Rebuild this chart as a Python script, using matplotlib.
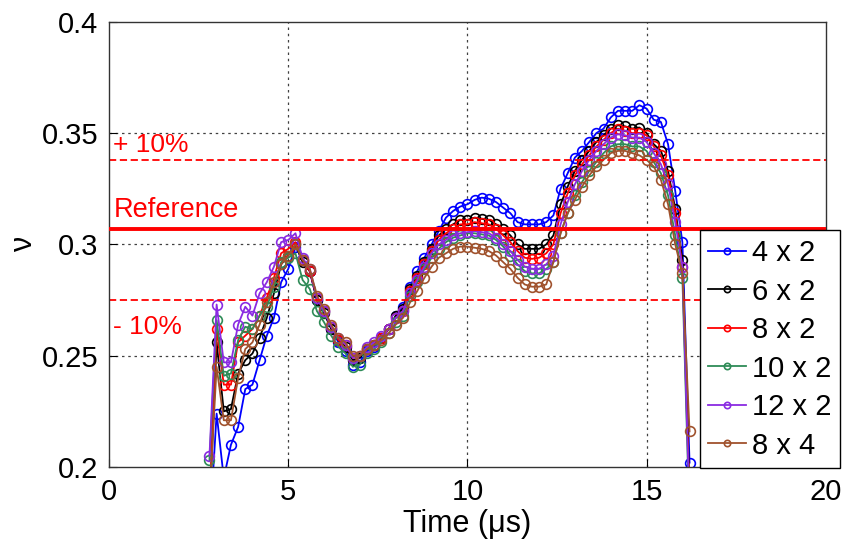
import matplotlib
matplotlib.use("Agg")
import matplotlib.pyplot as plt
import numpy as np

plt.rcParams['font.family'] = ['Liberation Sans', 'DejaVu Sans']

# sample times (us)
t = np.round(np.arange(2.8, 16.21, 0.2), 1)

nu_4x2 = [0.170, 0.224, 0.195, 0.210, 0.218, 0.235, 0.237, 0.248, 0.259, 0.267,
          0.283, 0.289, 0.299, 0.293, 0.288, 0.275, 0.270, 0.262, 0.256, 0.252,
          0.246, 0.247, 0.252, 0.254, 0.258, 0.262, 0.268, 0.272, 0.281, 0.288,
          0.294, 0.300, 0.306, 0.312, 0.315, 0.317, 0.318, 0.320, 0.321, 0.3205,
          0.319, 0.3165, 0.314, 0.310, 0.309, 0.309, 0.309, 0.310, 0.313, 0.325,
          0.332, 0.339, 0.342, 0.346, 0.350, 0.352, 0.357, 0.360, 0.360, 0.360,
          0.3625, 0.361, 0.356, 0.355, 0.345, 0.324, 0.301, 0.202]
nu_6x2 = [0.180, 0.256, 0.225, 0.226, 0.242, 0.248, 0.251, 0.258, 0.267, 0.278,
          0.291, 0.295, 0.300, 0.292, 0.288, 0.275, 0.269, 0.262, 0.257, 0.254,
          0.248, 0.249, 0.253, 0.255, 0.258, 0.262, 0.268, 0.271, 0.280, 0.286,
          0.292, 0.298, 0.304, 0.307, 0.309, 0.311, 0.311, 0.312, 0.3115, 0.311,
          0.309, 0.307, 0.304, 0.300, 0.298, 0.298, 0.298, 0.300, 0.304, 0.318,
          0.326, 0.333, 0.338, 0.342, 0.346, 0.349, 0.352, 0.3535, 0.353, 0.352,
          0.3525, 0.350, 0.345, 0.342, 0.333, 0.316, 0.293, 0.190]
nu_8x2 = [0.185, 0.262, 0.237, 0.237, 0.256, 0.259, 0.262, 0.268, 0.276, 0.285,
          0.296, 0.298, 0.301, 0.293, 0.288, 0.276, 0.270, 0.263, 0.257, 0.255,
          0.249, 0.250, 0.253, 0.255, 0.258, 0.262, 0.267, 0.270, 0.279, 0.285,
          0.291, 0.297, 0.302, 0.305, 0.307, 0.309, 0.309, 0.310, 0.3095, 0.309,
          0.307, 0.304, 0.301, 0.297, 0.294, 0.2935, 0.294, 0.296, 0.300, 0.314,
          0.323, 0.331, 0.336, 0.340, 0.344, 0.347, 0.350, 0.352, 0.351, 0.350,
          0.350, 0.349, 0.344, 0.340, 0.331, 0.314, 0.290, 0.185]
nu_10x2 = [0.203, 0.266, 0.241, 0.242, 0.257, 0.263, 0.262, 0.268, 0.272, 0.281,
           0.292, 0.294, 0.296, 0.284, 0.280, 0.270, 0.265, 0.259, 0.254, 0.251,
           0.245, 0.246, 0.251, 0.253, 0.256, 0.260, 0.265, 0.268, 0.277, 0.283,
           0.289, 0.294, 0.298, 0.301, 0.303, 0.304, 0.305, 0.305, 0.3045, 0.304,
           0.302, 0.299, 0.295, 0.291, 0.288, 0.287, 0.287, 0.289, 0.292, 0.305,
           0.314, 0.322, 0.328, 0.333, 0.337, 0.341, 0.344, 0.345, 0.345, 0.344,
           0.344, 0.342, 0.337, 0.332, 0.322, 0.304, 0.285, 0.175]
nu_12x2 = [0.205, 0.273, 0.247, 0.247, 0.264, 0.272, 0.268, 0.278, 0.283, 0.290,
           0.301, 0.302, 0.305, 0.294, 0.289, 0.276, 0.270, 0.263, 0.258, 0.255,
           0.249, 0.250, 0.254, 0.256, 0.259, 0.262, 0.267, 0.270, 0.278, 0.284,
           0.290, 0.296, 0.300, 0.302, 0.304, 0.305, 0.3055, 0.306, 0.3055, 0.305,
           0.303, 0.300, 0.297, 0.293, 0.290, 0.289, 0.289, 0.291, 0.295, 0.309,
           0.319, 0.327, 0.333, 0.338, 0.342, 0.345, 0.348, 0.3495, 0.349, 0.348,
           0.348, 0.346, 0.341, 0.336, 0.327, 0.310, 0.290, 0.180]
nu_8x4 = [0.185, 0.245, 0.221, 0.221, 0.240, 0.253, 0.256, 0.264, 0.274, 0.283,
          0.291, 0.295, 0.300, 0.293, 0.289, 0.277, 0.271, 0.264, 0.258, 0.256,
          0.250, 0.250, 0.253, 0.255, 0.257, 0.260, 0.264, 0.267, 0.274, 0.279,
          0.285, 0.290, 0.294, 0.296, 0.298, 0.299, 0.299, 0.2985, 0.298, 0.297,
          0.295, 0.292, 0.289, 0.285, 0.282, 0.281, 0.281, 0.282, 0.292, 0.305,
          0.314, 0.320, 0.326, 0.331, 0.335, 0.338, 0.341, 0.342, 0.342, 0.341,
          0.340, 0.338, 0.335, 0.329, 0.318, 0.300, 0.287, 0.216]

labels = ["4 x 2", "6 x 2", "8 x 2", "10 x 2", "12 x 2", "8 x 4"]
colors = ["#0000FF", "#000000", "#FF0000", "#2E8B57", "#8A2BE2", "#A0522D"]
series = [nu_4x2, nu_6x2, nu_8x2, nu_10x2, nu_12x2, nu_8x4]

nu_ref = 0.307
nu_hi = 0.3378
nu_lo = 0.2752

fig = plt.figure(figsize=(8.46, 5.44), dpi=100)
ax = fig.add_axes([0.129, 0.1415, 0.847, 0.8185])

for y, lab, c in zip(series, labels, colors):
    ax.plot(t, y, '-o', color=c, lw=1.3, ms=7, mfc='none', mew=1.2, label=lab)

ax.axhline(nu_ref, color='red', lw=2.8, zorder=5)
ax.axhline(nu_hi, color='red', lw=1.3, ls=(0, (4, 2)))
ax.axhline(nu_lo, color='red', lw=1.3, ls=(0, (4, 2)))

ax.text(0.12, 0.3446, "+ 10%", color='red', fontsize=19, va='center')
ax.text(0.12, 0.3153, "Reference", color='red', fontsize=19.5, va='center')
ax.text(0.12, 0.2631, "- 10%", color='red', fontsize=19, va='center')

ax.set_xlim(0, 20)
ax.set_ylim(0.2, 0.4)
ax.set_xticks([0, 5, 10, 15, 20])
ax.set_yticks([0.2, 0.25, 0.3, 0.35, 0.4])
ax.set_yticklabels(["0.2", "0.25", "0.3", "0.35", "0.4"])
ax.tick_params(direction='in', length=6, labelsize=21, pad=8)
for s in ax.spines.values():
    s.set_linewidth(1.0)
    s.set_color('#333333')

for gx in [5, 10, 15]:
    ax.axvline(gx, color='0.25', lw=0.9, ls=(0, (2, 3)), zorder=0)
for gy in [0.25, 0.3, 0.35]:
    ax.axhline(gy, color='0.25', lw=0.9, ls=(0, (2, 3)), zorder=0)

ax.set_xlabel("Time (\u03bcs)", fontsize=22, labelpad=2)
ax.set_ylabel("\u03bd", fontsize=22, labelpad=2)

leg = ax.legend(loc='lower left', bbox_to_anchor=(0.827, 0.139),
                bbox_transform=fig.transFigure, fontsize=21, markerscale=0.65,
                handlelength=1.3, handletextpad=0.2, labelspacing=0.36,
                borderpad=0.3, borderaxespad=0, fancybox=False, framealpha=1)
leg.get_frame().set_edgecolor('black')
leg.get_frame().set_linewidth(1.0)
leg.set_zorder(10)

fig.savefig("out.png", dpi=100)
